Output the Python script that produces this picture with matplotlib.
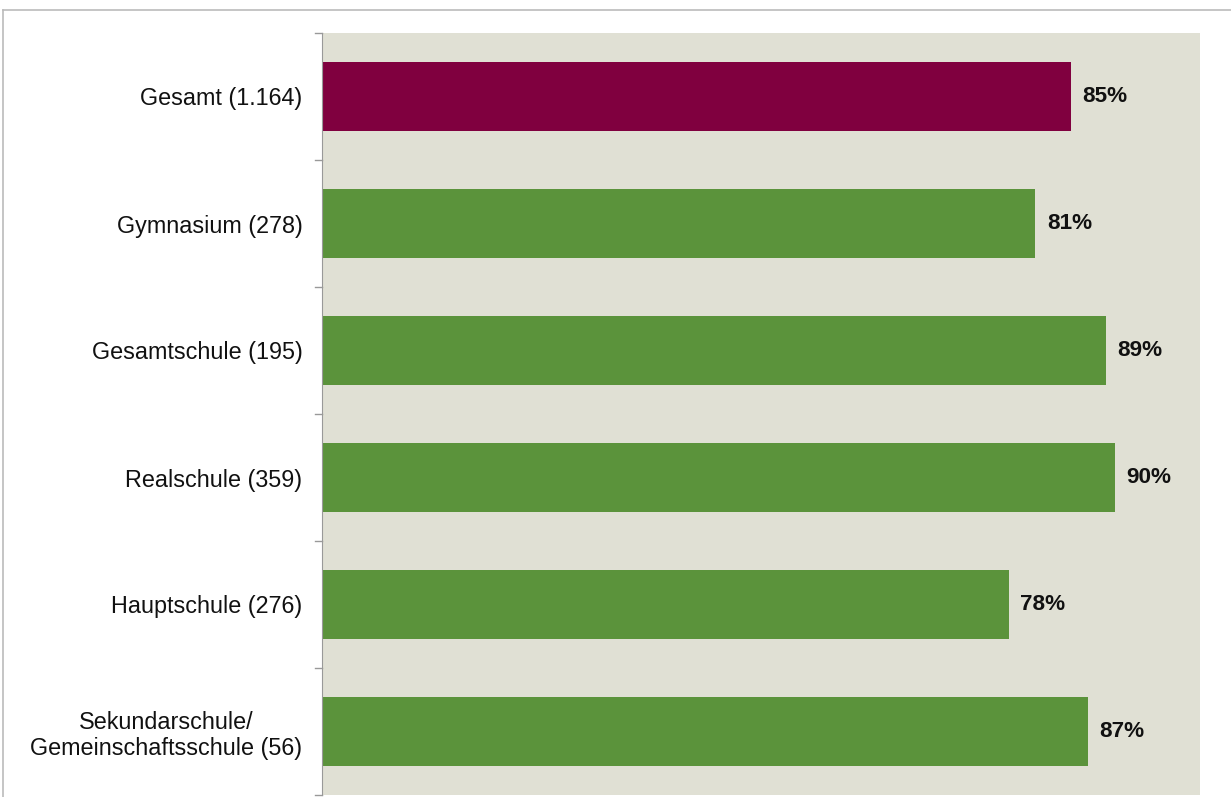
import matplotlib

matplotlib.use("Agg")
import matplotlib.pyplot as plt
from matplotlib.lines import Line2D

categories = [
    "Gesamt (1.164)",
    "Gymnasium (278)",
    "Gesamtschule (195)",
    "Realschule (359)",
    "Hauptschule (276)",
    "Sekundarschule/\nGemeinschaftsschule (56)",
]
values = [85, 81, 89, 90, 78, 87]
bar_colors = ["#80003F", "#5B933B", "#5B933B", "#5B933B", "#5B933B", "#5B933B"]

W, H = 1231, 797
plt.rcParams["font.family"] = ["Liberation Sans", "DejaVu Sans"]

fig = plt.figure(figsize=(W / 100, H / 100), dpi=100)
ax = fig.add_axes([322 / W, 1 - 795 / H, (1200 - 322) / W, (795 - 33) / H])
ax.set_facecolor("#E0E0D4")

pos = list(range(len(categories)))
ax.barh(pos, values, height=0.55, color=bar_colors)
for p, v in zip(pos, values):
    ax.text(v + 1.3, p, f"{v}%", va="center", ha="left",
            fontsize=16.2, fontweight="bold", color="#111111")

ax.set_xlim(0, 99.7)
ax.set_ylim(len(categories) - 0.5, -0.5)
ax.set_xticks([])
ax.set_yticks(pos)
ax.set_yticklabels(categories, fontsize=16.8, color="#111111",
                   ha="right", multialignment="center", linespacing=1.15)
ax.tick_params(axis="y", length=0, pad=14)
# boundary tick marks
for b in [i - 0.5 for i in range(len(categories) + 1)]:
    ax.plot([-0.8, 0], [b, b], color="#999999", lw=1, clip_on=False)

for s in ["top", "right", "bottom"]:
    ax.spines[s].set_visible(False)
ax.spines["left"].set_color("#999999")

# outer chart border
fig.add_artist(Line2D([3 / W, 1], [1 - 10 / H, 1 - 10 / H], color="#bbbbbb", lw=1.2))
fig.add_artist(Line2D([3 / W, 3 / W], [0, 1 - 10 / H], color="#bbbbbb", lw=1.2))

fig.savefig("out.png", dpi=100)
